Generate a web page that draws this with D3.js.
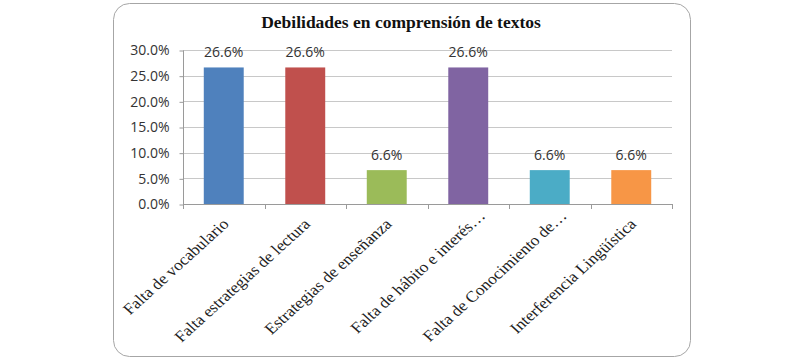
<!DOCTYPE html>
<html><head><meta charset="utf-8">
<script src="https://cdn.jsdelivr.net/npm/d3@7"></script>
<style>body{margin:0;background:#fff}</style>
</head><body>
<svg id="c" width="803" height="360"></svg>
<script>
const categories = ["Falta de vocabulario","Falta estrategias de lectura","Estrategias de enseñanza","Falta de hábito e interés…","Falta de Conocimiento de…","Interferencia Lingüística"];
const values = [26.6, 26.6, 6.6, 26.6, 6.6, 6.6];
const colors = ["#4F81BD","#C0504D","#9BBB59","#8064A2","#4BACC6","#F79646"];
const yTicks = [0,5,10,15,20,25,30];
const title = "Debilidades en comprensión de textos";

const svg = d3.select("#c");
svg.append("rect").attr("x",113.5).attr("y",3.5).attr("width",577).attr("height",353)
  .attr("rx",16).attr("fill","#fff").attr("stroke","#a6a6a6").attr("stroke-width",1);

svg.append("text").attr("x",401).attr("y",28).attr("text-anchor","middle")
  .attr("font-family","Liberation Serif, Times New Roman, serif").attr("font-weight","bold")
  .attr("font-size",17.5).attr("fill","#111").text(title);

const x = d3.scaleBand().domain(categories).range([183,672]).paddingInner(0.51).paddingOuter(0.255);
const y = d3.scaleLinear().domain([0,30]).range([204,50]);

// gridlines
svg.append("g").selectAll("line").data(yTicks.slice(1)).join("line")
  .attr("x1",183).attr("x2",672).attr("y1",d=>Math.round(y(d))+0.5).attr("y2",d=>Math.round(y(d))+0.5)
  .attr("stroke","#c8c8c8").attr("stroke-width",1);

// y axis
const yAxis = d3.axisLeft(y).tickValues(yTicks).tickFormat(d=>d.toFixed(1)+"%").tickSize(4).tickPadding(10);
const gy = svg.append("g").attr("transform","translate(183.5,0.5)").call(yAxis);
gy.select(".domain").attr("stroke","#9a9a9a").attr("d","M0,"+(y(30))+"V"+y(0));
gy.selectAll(".tick line").attr("stroke","#9a9a9a");
gy.selectAll(".tick text").attr("font-family","Open Sans, Liberation Sans, sans-serif").attr("font-size",14).attr("fill","#333");

// bars
svg.append("g").selectAll("rect").data(categories).join("rect")
  .attr("x",d=>x(d)).attr("width",x.bandwidth())
  .attr("y",(d,i)=>y(values[i])).attr("height",(d,i)=>y(0)-y(values[i]))
  .attr("fill",(d,i)=>colors[i]);

// x axis line and ticks
const step = x.step();
const xs = d3.range(categories.length+1).map(i=>183+i*step);
svg.append("line").attr("x1",183).attr("x2",672).attr("y1",204.5).attr("y2",204.5).attr("stroke","#9a9a9a");
svg.append("g").selectAll("line").data(xs).join("line")
  .attr("x1",d=>Math.round(d)+0.5).attr("x2",d=>Math.round(d)+0.5).attr("y1",204).attr("y2",209)
  .attr("stroke","#9a9a9a");

// value labels
svg.append("g").selectAll("text").data(categories).join("text")
  .attr("x",d=>x(d)+x.bandwidth()/2).attr("y",(d,i)=>y(values[i])-10)
  .attr("text-anchor","middle").attr("font-family","Open Sans, Liberation Sans, sans-serif")
  .attr("font-size",14).attr("fill","#333").text((d,i)=>values[i].toFixed(1)+"%");

// category labels (source image is stretched horizontally)
svg.append("g").selectAll("text").data(categories).join("text")
  .attr("transform",d=>{
    const trunc = d.endsWith("…");
    const cx = x(d)+x.bandwidth()/2 + (trunc ? 18 : 6);
    const cy = trunc ? 217 : 225;
    return "translate("+cx+","+cy+") scale(1.1,1) rotate(-45)";
  })
  .attr("text-anchor","end").attr("font-family","Liberation Serif, Times New Roman, serif")
  .attr("font-size",15.7).attr("fill","#222").text(d=>d);
</script>
</body></html>
